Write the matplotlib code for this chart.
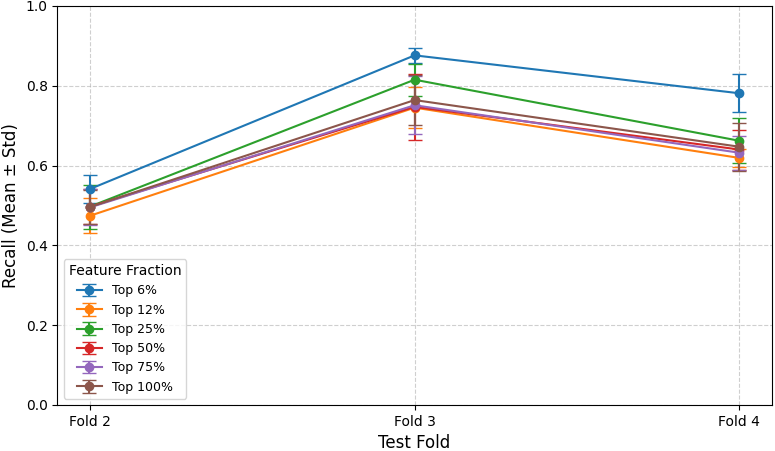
"""Recall per test fold for different feature fractions."""

import matplotlib

matplotlib.use("Agg")
import matplotlib.pyplot as plt
import numpy as np

folds = ["Fold 2", "Fold 3", "Fold 4"]
fractions = ["Top 6%", "Top 12%", "Top 25%", "Top 50%", "Top 75%", "Top 100%"]

recall_mean = {
    "Top 6%": [0.541, 0.876, 0.781],
    "Top 12%": [0.474, 0.745, 0.619],
    "Top 25%": [0.497, 0.815, 0.662],
    "Top 50%": [0.497, 0.747, 0.640],
    "Top 75%": [0.495, 0.751, 0.632],
    "Top 100%": [0.496, 0.764, 0.647],
}
recall_std = {
    "Top 6%": [0.034, 0.018, 0.048],
    "Top 12%": [0.044, 0.052, 0.022],
    "Top 25%": [0.055, 0.040, 0.056],
    "Top 50%": [0.043, 0.083, 0.050],
    "Top 75%": [0.045, 0.073, 0.042],
    "Top 100%": [0.043, 0.062, 0.060],
}


def main():
    fig, ax = plt.subplots(figsize=(7.75, 4.51), dpi=100)
    x = np.arange(len(folds))
    for name in fractions:
        ax.errorbar(x, recall_mean[name], yerr=recall_std[name], marker="o",
                    capsize=5, label=name, linewidth=1.5, markersize=6)

    ax.set_xticks(x)
    ax.set_xticklabels(folds)
    ax.set_ylim(0, 1)
    ax.set_xlabel("Test Fold", fontsize=12)
    ax.set_ylabel("Recall (Mean ± Std)", fontsize=12)
    ax.grid(True, linestyle="--", alpha=0.6)
    ax.legend(title="Feature Fraction", loc="lower left", fontsize=9)
    fig.subplots_adjust(left=0.074, right=0.996, top=0.987, bottom=0.102)
    fig.savefig("out.png", dpi=100)
    plt.close(fig)


if __name__ == "__main__":
    main()
